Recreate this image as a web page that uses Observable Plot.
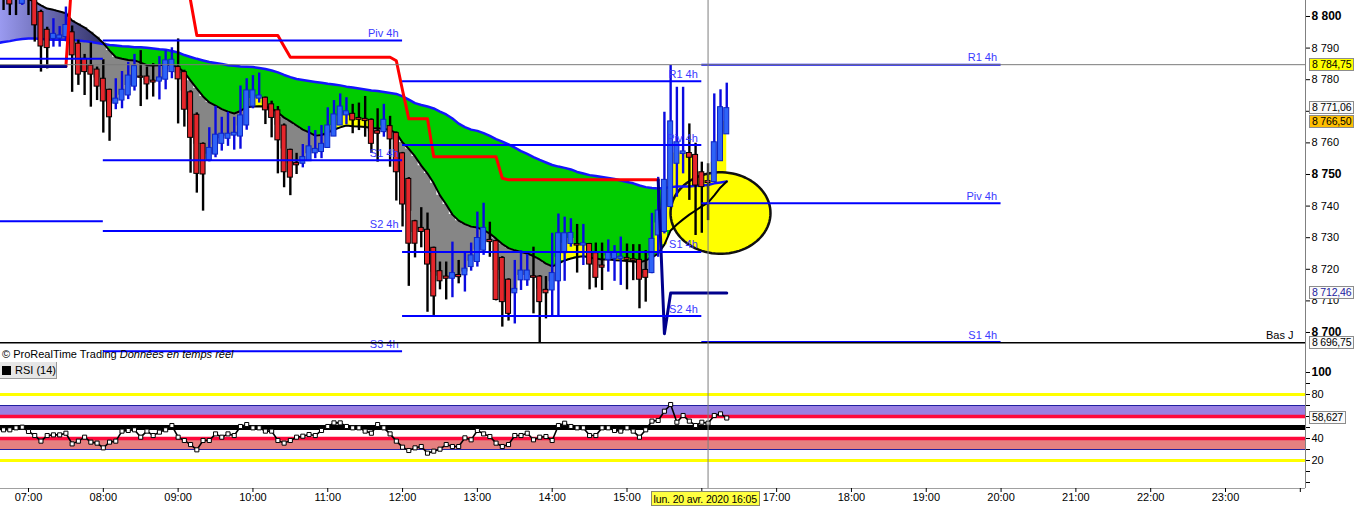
<!DOCTYPE html>
<html><head><meta charset="utf-8">
<script src="https://cdn.jsdelivr.net/npm/d3@7"></script>
<script src="https://cdn.jsdelivr.net/npm/@observablehq/plot@0.6"></script>
<style>
body{margin:0;background:#fff;}
#wrap{position:relative;width:1363px;height:507px;overflow:hidden;font-family:"Liberation Sans",Arial,sans-serif;background:#fff;}
#price,#rsi{position:absolute;left:0;}
#price{top:0;} #rsi{top:361px;}
.tag{position:absolute;height:11px;line-height:11px;font-size:10.5px;padding:0 2px;border:1px solid #8c8c8c;white-space:nowrap;color:#000;letter-spacing:-0.2px;}
</style></head><body><div id="wrap"><div id="price"></div><div id="rsi"></div></div>
<script>
// ---------- DATA (5-minute bars, first bar 06:35) ----------
const firstBar = 6 + 35/60;
const barHours = 5/60;
const open = [
 8812, 8812, 8808, 8811, 8804,
 8809, 8806, 8801.4, 8795.8, 8792.9, 8793, 8793.5, 8795, 8791.4, 8786.6, 8784.5, 8783.2,
 8780.3, 8776.8, 8772.4, 8773.4, 8775, 8777.8, 8781, 8781, 8779.7, 8779.4, 8780, 8782.4,
 8784, 8782.4, 8776, 8768.9, 8759.7, 8754.4, 8756.3, 8759.7, 8761.3, 8762.3, 8762, 8765.5,
 8771.5, 8774, 8774.3, 8772.2, 8770.3, 8765.5, 8757.8, 8753.6, 8753.4, 8754.2, 8756.7, 8757.1,
 8758.4, 8762, 8765.5, 8768.7, 8769.2, 8767.9, 8767.6, 8767.3, 8763.7, 8763.4, 8765.3, 8763.1,
 8756.7, 8748.6, 8735.2, 8733.1, 8732.5, 8726.8, 8719.4, 8717.7, 8717, 8718.2, 8718.1, 8720.7,
 8722.3, 8725.9, 8729.3, 8728.9, 8723.6, 8716.7, 8712.4, 8716.5, 8716.5, 8717.8, 8717.7, 8713.5,
 8713.3, 8716.2, 8725.1, 8728, 8728, 8727.5, 8728, 8725.1, 8721.2, 8723, 8723.3, 8723.3,
 8723.6, 8723.2, 8723, 8719.8, 8718.8, 8730.7, 8731.8, 8739.7, 8753.4, 8756.5, 8756.8, 8756.2,
 8750.7, 8747.9, 8747.6, 8754.2, 8762.7
];
const high = [
 8816, 8814, 8810, 8813, 8808,
 8811, 8807, 8802, 8796.6, 8799.3, 8796.8, 8803, 8797, 8792.5, 8788, 8791.6, 8784,
 8786.3, 8777, 8780.3, 8782.6, 8785.5, 8788, 8789.2, 8784, 8785.1, 8787.3, 8789.2, 8790.1,
 8792.9, 8783, 8776.5, 8769.5, 8760, 8764.8, 8771.5, 8768.1, 8769.7, 8768.1, 8778, 8780.3,
 8781.3, 8782.1, 8774.5, 8773.2, 8771.5, 8766, 8758, 8756.7, 8759.5, 8765.2, 8763.9, 8765.5,
 8771.1, 8773.4, 8775.5, 8774.3, 8772.2, 8772.6, 8774.7, 8767.6, 8770.8, 8772.2, 8768.4, 8763.5,
 8757, 8749, 8735.5, 8739.5, 8737.8, 8727, 8722.3, 8722.3, 8728.6, 8722.8, 8725.1, 8728.3,
 8738.1, 8740.9, 8734.9, 8729.2, 8724, 8717, 8722.8, 8725.9, 8724.7, 8727, 8718, 8717.7,
 8731.4, 8737.5, 8736.5, 8736, 8734.2, 8734.2, 8728.2, 8728.3, 8728.3, 8729.3, 8727.5, 8730.2,
 8728, 8727.8, 8727.8, 8725.9, 8737.7, 8749.1, 8769.7, 8784.5, 8777.6, 8777.6, 8766, 8759.9,
 8753.9, 8753.4, 8775.5, 8776.8, 8778.9
];
const low = [
 8806, 8801.9, 8800.3, 8800.3, 8803.5,
 8800.3, 8791.9, 8782.4, 8783.4, 8790.3, 8790.3, 8792, 8776, 8778.2, 8775, 8771.3, 8773.4,
 8763.1, 8760.5, 8770.5, 8770.8, 8773.7, 8776.4, 8771.5, 8773.6, 8774.5, 8773.6, 8776.8, 8780.3,
 8766, 8765, 8750.4, 8744.1, 8738.4, 8754, 8755.3, 8757.4, 8758.9, 8757.7, 8758, 8764,
 8770.8, 8772.6, 8765.8, 8761.6, 8750.2, 8745.8, 8743.3, 8750, 8752.1, 8754.2, 8755, 8755,
 8758.4, 8762, 8765.5, 8765.8, 8762.9, 8763.9, 8761.8, 8756.7, 8753.9, 8761.8, 8752.3, 8741.6,
 8733.4, 8714.6, 8723.6, 8726.8, 8706.4, 8705.4, 8713.5, 8710.3, 8711, 8715.4, 8712.8, 8719.4,
 8720.7, 8724.4, 8723.8, 8710, 8701.7, 8703.6, 8702.7, 8713.3, 8714.6, 8705.9, 8696.75, 8704.3,
 8704.8, 8704.8, 8716.2, 8727, 8718.8, 8721.2, 8713.5, 8714.1, 8713.3, 8719.1, 8716.2, 8714.9,
 8713.5, 8716.4, 8707.5, 8709.6, 8718.6, 8723.8, 8731.2, 8739.7, 8742.8, 8750.2, 8741.8, 8730.7,
 8731.4, 8735.4, 8747.6, 8754.2, 8762.7
];
const close = [
 8809, 8806, 8803.8, 8806, 8806,
 8806, 8797.2, 8790.5, 8790, 8794.5, 8794, 8797.3, 8787.7, 8781.6, 8782.4, 8781.6, 8777.8,
 8773.1, 8768.1, 8774, 8776.8, 8781.3, 8784.3, 8780.6, 8778.5, 8779.1, 8780.7, 8786.1, 8786.3,
 8780.1, 8770.5, 8761.6, 8750.2, 8750, 8758.4, 8762.6, 8762.9, 8762.9, 8763.2, 8768.7, 8776.6,
 8776.6, 8775, 8770.3, 8767.9, 8760.8, 8750.7, 8749, 8752.9, 8755.5, 8758.9, 8758.1, 8759.7,
 8765.5, 8769, 8771.5, 8770, 8767.1, 8767.3, 8766.9, 8759.7, 8762.9, 8767.3, 8761.1, 8750.7,
 8740.5, 8728.1, 8728.1, 8731.8, 8721.5, 8711.4, 8716.2, 8717, 8718.8, 8717.5, 8720.2, 8724.4,
 8729.9, 8733.1, 8728.6, 8710.3, 8709.6, 8705.9, 8713.8, 8719.6, 8719.6, 8717.3, 8709.6, 8712.4,
 8718.8, 8731.4, 8731.4, 8731.5, 8727.5, 8728.2, 8721.5, 8717.3, 8720.5, 8725.4, 8725.4, 8724,
 8723, 8722.7, 8716.7, 8717.3, 8729.6, 8738.6, 8748.3, 8766.8, 8760.2, 8757.3, 8755.3, 8746.5,
 8746, 8747.3, 8760.2, 8771.3, 8771
];
// upper (blue) average
const blueAvg = [
 8791.6, 8791.9, 8792.2, 8792.6, 8792.9,
 8793.0, 8793.0, 8792.9, 8792.7, 8792.6, 8792.6, 8792.6, 8792.6, 8792.4, 8792.2, 8791.9, 8791.6,
 8791.3, 8791.0, 8790.8, 8790.6, 8790.5, 8790.3, 8790.3, 8790.1, 8789.9, 8789.6, 8789.5, 8789.1,
 8788.6, 8787.8, 8787.2, 8786.6, 8786.1, 8785.6, 8785.3, 8785.0, 8784.6, 8784.4, 8784.2, 8784.1,
 8784.0, 8783.7, 8783.4, 8782.9, 8782.3, 8781.5, 8780.8, 8780.2, 8779.9, 8779.6, 8779.3, 8779.0,
 8778.7, 8778.5, 8778.2, 8777.8, 8777.5, 8777.2, 8776.9, 8776.6, 8776.4, 8776.1, 8775.8, 8775.5,
 8774.7, 8773.7, 8772.6, 8772.0, 8771.5, 8770.9, 8769.9, 8769.0, 8767.7, 8766.1, 8765.0, 8764.2,
 8763.8, 8763.1, 8762.2, 8761.2, 8760.4, 8759.5, 8758.5, 8757.4, 8756.5, 8755.5, 8754.6, 8753.8,
 8753.0, 8752.5, 8752.1, 8751.6, 8750.8, 8750.3, 8749.8, 8749.5, 8749.2, 8748.9, 8748.6, 8748.1,
 8747.6, 8747.2, 8746.5, 8746.0, 8745.7, 8745.6, 8745.7, 8746.0, 8746.2, 8746.2, 8746.2, 8746.4,
 8746.5, 8746.7, 8747.2, 8747.5, 8747.8
];
// slower (black) average
const blackAvg = [
 8813.2, 8811.4, 8809.5, 8807.6, 8806.3,
 8805.4, 8804.7, 8803.5, 8802.5, 8802.1, 8801.6, 8801.0, 8798.7, 8797.6, 8796.5, 8795.0, 8793.4,
 8791.6, 8789.2, 8787.1, 8786.6, 8786.2, 8786.1, 8785.4, 8784.6, 8784.5, 8784.6, 8784.8, 8784.5,
 8784.0, 8782.3, 8779.7, 8777.2, 8774.7, 8772.8, 8771.8, 8770.7, 8769.9, 8769.3, 8770.1, 8771.3,
 8771.5, 8771.6, 8771.5, 8770.9, 8769.6, 8768.0, 8766.8, 8765.5, 8764.2, 8763.3, 8762.3, 8762.5,
 8763.3, 8764.1, 8764.9, 8765.5, 8765.3, 8765.2, 8765.0, 8764.7, 8764.6, 8764.4, 8764.1, 8763.0,
 8760.1, 8758.1, 8755.7, 8752.8, 8750.3, 8747.2, 8743.4, 8740.5, 8737.3, 8735.4, 8734.3, 8733.5,
 8733.2, 8732.4, 8731.3, 8729.7, 8728.0, 8726.7, 8726.0, 8725.5, 8725.0, 8724.2, 8723.1, 8721.8,
 8720.9, 8721.8, 8722.8, 8723.4, 8723.9, 8724.1, 8723.7, 8723.4, 8723.1, 8723.1, 8722.9, 8722.8,
 8722.6, 8722.5, 8722.2, 8722.8, 8723.7, 8725.0, 8727.8, 8732.3, 8734.2, 8735.8, 8737.3, 8738.6,
 8739.9, 8741.1, 8743.4, 8745.9, 8747.8
];
// trailing stop: red (short) and navy (long) segments
const stopRed = [
 null, null, null, null, null,
 null, null, null, null, null, null, 8784.2, 8813.2, 8813.2, 8813.2, 8813.2, 8813.2,
 8813.2, 8813.2, 8813.2, 8813.2, 8813.2, 8813.2, 8813.2, 8813.2, 8813.2, 8813.2, 8813.2, 8813.2,
 8813.2, 8813.2, 8805.0, 8794, 8794, 8794, 8794, 8794, 8794, 8794, 8794, 8794,
 8794, 8794, 8794, 8794, 8794, 8790.5, 8787.1, 8787.1, 8787.1, 8787.1, 8787.1, 8787.1,
 8787.1, 8787.1, 8787.1, 8787.1, 8787.1, 8787.1, 8787.1, 8787.1, 8787.1, 8787.1, 8787.1, 8786.0,
 8776.6, 8767.6, 8767.6, 8767.6, 8767.6, 8755.6, 8755.6, 8755.6, 8755.6, 8755.6, 8755.6, 8755.6,
 8755.6, 8755.6, 8755.6, 8755.6, 8748.8, 8748.3, 8748.3, 8748.3, 8748.3, 8748.3, 8748.3, 8748.3,
 8748.3, 8748.3, 8748.3, 8748.3, 8748.3, 8748.3, 8748.3, 8748.3, 8748.3, 8748.3, 8748.3, 8748.3,
 8748.3, 8748.3, 8748.3, 8748.3, 8748.3, 8748.3, null, null, null, null, null, null,
 null, null, null, null, null
];
const stopNavy = [
 8784.2, 8784.2, 8784.2, 8784.2, 8784.2,
 8784.2, 8784.2, 8784.2, 8784.2, 8784.2, 8784.2, 8784.2, null, null, null, null, null,
 null, null, null, null, null, null, null, null, null, null, null, null,
 null, null, null, null, null, null, null, null, null, null, null, null,
 null, null, null, null, null, null, null, null, null, null, null, null,
 null, null, null, null, null, null, null, null, null, null, null, null,
 null, null, null, null, null, null, null, null, null, null, null, null,
 null, null, null, null, null, null, null, null, null, null, null, null,
 null, null, null, null, null, null, null, null, null, null, null, null,
 null, null, null, null, null, 8748.3, 8699.6, 8712.46, 8712.46, 8712.46, 8712.46, 8712.46,
 8712.46, 8712.46, 8712.46, 8712.46, 8712.46
];
const rsi = [
 48.5, 47.9, 47.9, 49.7, 50.3,
 46.4, 42.7, 37.6, 42.7, 43.3, 43.3, 44.8, 35.1, 37.6, 41.2, 36.7, 35.8,
 31.5, 36.7, 37.6, 46.7, 47.3, 47.9, 41.2, 46.7, 42.7, 45.8, 47.9, 51.8,
 41.2, 38.2, 34.5, 29.7, 38.2, 38.2, 44.2, 41.2, 44.2, 42.7, 50.9, 52.7,
 49.7, 49.7, 46.7, 46.7, 38.2, 35.8, 38.2, 41.2, 42.1, 43.6, 42.7, 47.3,
 50.9, 54.2, 54.2, 50.9, 49.7, 49.7, 46.7, 44.8, 52.7, 49.7, 44.2, 37.6,
 32.1, 29.1, 31.5, 32.7, 26.7, 28.5, 30.3, 34.5, 32.7, 32.7, 40.6, 38.8,
 47.3, 44.2, 41.8, 35.8, 32.7, 34.5, 42.7, 42.7, 44.8, 38.8, 41.2, 41.8,
 38.2, 51.8, 53.9, 50.9, 49.7, 49.7, 42.7, 42.7, 49.7, 49.7, 47.3, 46.7,
 49.7, 46.7, 41.2, 47.9, 55.8, 56.4, 64.8, 70.9, 54.8, 60.9, 55.8, 51.8,
 54.8, 53.9, 60.9, 62.4, 58.627
];
// 4h pivot levels (periods 04-08, 08-12, 12-16, 16-20)
const pivotStart = [4, 8, 12, 16];
const pivotEnd = [8, 12, 16, 20];
const pivotNames = ["R1 4h", "Piv 4h", "S1 4h", "S2 4h", "S3 4h"];
const pivR1 = [null, null, 8779.5, 8784.75];
const pivP  = [null, 8792.4, 8759.3, 8740.9];
const pivS1 = [8786.6, 8754.5, 8725.5, 8697.0];
const pivS2 = [8735.2, 8732.1, 8705.2, null];
const pivS3 = [null, 8694.1, null, null];
const pivotLabelled = [false, true, true, true];
const lowOfDay = 8696.75;        // "Bas J"
const lastHighLine = 8784.75;
const priceTags = [8784.75, 8771.06, 8766.50, 8712.46, 8696.75];
const rsiTag = 58.627;
const priceTicks = [8700, 8710, 8720, 8730, 8740, 8750, 8760, 8770, 8780, 8790, 8800];
const priceTickLabels = [8710, 8720, 8730, 8740, 8760, 8780, 8790];
const priceTicksBold = [8700, 8750, 8800];
const hourTicks = [7,8,9,10,11,12,13,14,15,16,17,18,19,20,21,22,23,24];
const hourLabels = [7,8,9,10,11,12,13,14,15,17,18,19,20,21,22,23];
const rsiTicks = [0, 10, 20, 30, 40, 50, 60, 70, 80, 90, 100];
const rsiLabelTicks = [80, 40, 20];
const crossTime = 16 + 5/60;
const crossLabel = "lun. 20 avr. 2020 16:05";

// ---------- BUILD ----------
const candles = open.map((o, i) => {
  const c = close[i];
  return {t: firstBar + i*barHours, o, h: high[i], l: low[i], c,
    bull: c >= o, lo: Math.min(o, c), hi: Math.max(o, c), mid: (o + c)/2,
    blue: blueAvg[i], black: blackAvg[i], red: stopRed[i] ?? NaN, navy: stopNavy[i] ?? NaN, rsi: rsi[i]};
});
const bulls = candles.filter(d => d.bull), bears = candles.filter(d => !d.bull);
const hw = barHours * 0.4;
const pivotLevels = [pivR1, pivP, pivS1, pivS2, pivS3];
const pivots = [];
pivotStart.forEach((s, k) => pivotLevels.forEach((arr, j) => {
  if (arr[k] != null) pivots.push({x1: s, x2: pivotEnd[k], y: arr[k], label: pivotNames[j], shown: pivotLabelled[k]});
}));
// highlighted zone (ellipse annotation)
const zone = {t: 16.25, p: 8737.8, rt: 0.668, rp: 12.9};
const ellipse = d3.range(0, 361, 4).map(a => ({x: zone.t + zone.rt*Math.cos(a*Math.PI/180), y: zone.p + zone.rp*Math.sin(a*Math.PI/180)}));

const xDom = [6.62573, 24.0693];
const fmtTick = v => String(v).replace(/\B(?=(\d{3})+(?!\d))/g, " ");
const fmtPrice = v => { const [i, f] = v.toFixed(2).split("."); return fmtTick(i) + "," + f; };
const font = "'Liberation Sans', Arial, sans-serif";
const style = {background: "white", fontFamily: font, fontSize: "11px", color: "#000", overflow: "visible"};

const priceChart = Plot.plot({
  width: 1363, height: 361, marginTop: 0, marginBottom: 0, marginLeft: 0, marginRight: 58,
  x: {domain: xDom, axis: null}, y: {domain: [8690.82, 8805.06], axis: null}, style,
  marks: [
    Plot.areaY(candles, {x: "t", y1: "black", y2: d => Math.min(d.black, d.mid), fill: "#868686", curve: "step", clip: true}),
    Plot.areaY(candles, {x: "t", y1: "blue", y2: d => Math.max(d.blue, d.black), fill: "url(#purpleGrad)", clip: true}),
    Plot.areaY(candles, {x: "t", y1: "black", y2: d => Math.max(d.blue, d.black), fill: "#00cc00", clip: true}),
    Plot.areaY(candles, {x: "t", y1: "black", y2: d => Math.max(d.black, d.mid), fill: "#ffff00", curve: "step", clip: true}),
    Plot.line(ellipse, {x: "x", y: "y", fill: "#ffff00", stroke: "#111", strokeWidth: 2.5, curve: "linear-closed"}),
    Plot.line(candles, {x: "t", y: "blue", stroke: "#1414ff", strokeWidth: 2.5, clip: true}),
    Plot.line(candles, {x: "t", y: "black", stroke: "#000", strokeWidth: 2, clip: true}),
    Plot.ruleX(bears, {x: "t", y1: "l", y2: "h", stroke: "#000", strokeWidth: 2.4, clip: true}),
    Plot.ruleX(bulls, {x: "t", y1: "l", y2: "h", stroke: "#0a0ae0", strokeWidth: 2.4, clip: true}),
    Plot.rect(bears, {x1: d => d.t - hw, x2: d => d.t + hw, y1: "lo", y2: "hi", fill: "#e5262b", stroke: "#000", strokeWidth: 1, clip: true}),
    Plot.rect(bulls, {x1: d => d.t - hw, x2: d => d.t + hw, y1: "lo", y2: "hi", fill: "#2e63f7", stroke: "#0c24c4", strokeWidth: 1, clip: true}),
    Plot.line(candles, {x: "t", y: "red", stroke: "#ff0000", strokeWidth: 3, clip: true}),
    Plot.line(candles, {x: "t", y: "navy", stroke: "#00008c", strokeWidth: 3, clip: true}),
    Plot.ruleY(pivots, {y: "y", x1: "x1", x2: "x2", stroke: "#0000ff", strokeWidth: 2, clip: true}),
    Plot.text(pivots.filter(d => d.shown), {x: "x2", y: "y", text: "label", textAnchor: "end", dx: -4, dy: -7, fill: "#3a3aff", fontSize: 11}),
    Plot.ruleY([lastHighLine], {stroke: "#7a7a7a", strokeWidth: 1}),
    Plot.ruleY([lowOfDay], {stroke: "#000", strokeWidth: 1.3}),
    Plot.text([lowOfDay], {y: d => d, frameAnchor: "right", text: () => "Bas J", textAnchor: "end", dx: -12, dy: -7, fill: "#000", fontSize: 11}),
    Plot.ruleX([crossTime], {stroke: "#7f7f7f", strokeWidth: 1}),
    Plot.ruleY([8690.82], {stroke: "#a0a0a0", strokeWidth: 1}),
    Plot.ruleX([xDom[1]], {stroke: "#808080", strokeWidth: 1}),
    Plot.axisY(priceTicks, {anchor: "right", tickFormat: v => priceTickLabels.includes(v) ? fmtTick(v) : "", tickSize: 4, tickPadding: 2, fontSize: 11, label: null}),
    Plot.axisY(priceTicksBold, {anchor: "right", tickFormat: fmtTick, tickSize: 4, tickPadding: 2, fontSize: 12, fontWeight: "bold", label: null})
  ]
});
d3.select(priceChart).insert("defs", ":first-child").html(
  '<linearGradient id="purpleGrad" gradientUnits="userSpaceOnUse" x1="0" y1="0" x2="100" y2="0">' +
  '<stop offset="0" stop-color="#9a9af0"/><stop offset="1" stop-color="#35356c"/></linearGradient>');
document.getElementById("price").appendChild(priceChart);

const rsiChart = Plot.plot({
  width: 1363, height: 146, marginTop: 0, marginBottom: 19, marginLeft: 0, marginRight: 58,
  x: {domain: xDom, axis: null}, y: {domain: [-5.45, 110], axis: null}, style,
  marks: [
    Plot.rect([{a: 60, b: 70}], {y1: "a", y2: "b", fill: "#9a80e2"}),
    Plot.rect([{a: 30, b: 40}], {y1: "a", y2: "b", fill: "#e58080"}),
    Plot.ruleY([70, 30], {stroke: "#2020a0", strokeWidth: 1}),
    Plot.ruleY([80, 20], {stroke: "#ffff00", strokeWidth: 3}),
    Plot.ruleY([60, 40], {stroke: "#ff0a3c", strokeWidth: 3.5}),
    Plot.ruleY([50], {stroke: "#000", strokeWidth: 5}),
    Plot.line(candles, {x: "t", y: "rsi", stroke: "#000", strokeWidth: 1.6}),
    Plot.dot(candles, {x: "t", y: "rsi", symbol: "square", r: 2.3, fill: "#fff", stroke: "#000", strokeWidth: 1}),
    Plot.ruleX([crossTime], {stroke: "#7f7f7f", strokeWidth: 1}),
    Plot.ruleY([-5.45], {stroke: "#a0a0a0", strokeWidth: 1}),
    Plot.ruleX([xDom[1]], {stroke: "#808080", strokeWidth: 1}),
    Plot.axisY(rsiTicks, {anchor: "right", tickFormat: v => rsiLabelTicks.includes(v) ? String(v) : "", tickSize: 4, tickPadding: 2, fontSize: 11, label: null}),
    Plot.axisY([100], {anchor: "right", tickFormat: String, tickSize: 4, tickPadding: 2, fontSize: 12, fontWeight: "bold", label: null}),
    Plot.axisX(hourTicks, {anchor: "bottom", tickFormat: h => hourLabels.includes(h) ? String(h).padStart(2, "0") + ":00" : "", tickSize: 4, tickPadding: 1, fontSize: 11, label: null})
  ]
});
document.getElementById("rsi").appendChild(rsiChart);

// ---------- overlays (positioned by the chart scales) ----------
const wrap = document.getElementById("wrap");
const xs = priceChart.scale("x"), ys = priceChart.scale("y"), rs = rsiChart.scale("y");
const axisX0 = xs.range[1];
function addDiv(html, css) { const d = document.createElement("div"); d.innerHTML = html; Object.assign(d.style, css); wrap.appendChild(d); return d; }
const tagStyles = [
  {background: "#ffff00"}, {background: "#fafafa"}, {background: "#ffbf00"},
  {background: "#fafafa", color: "#1a1aa0"}, {background: "#fafafa"}
];
priceTags.forEach((v, i) => {
  const d = addDiv(fmtPrice(v), Object.assign({left: (axisX0 + 4) + "px", top: (ys.apply(v) - 6.5) + "px"}, tagStyles[i]));
  d.className = "tag";
});
const rt = addDiv(rsiTag.toFixed(3).replace(".", ","), {left: (axisX0 + 4) + "px", top: (361 + rs.apply(rsiTag) - 6.5) + "px", background: "#fafafa"});
rt.className = "tag";
addDiv(crossLabel, {position: "absolute", left: (xs.apply(crossTime) - 57) + "px", top: "491px", height: "15px", lineHeight: "14px",
  padding: "0 2px", fontSize: "10.5px", letterSpacing: "-0.15px", background: "#ffff40", border: "1px solid #8a8a6a", whiteSpace: "nowrap", boxSizing: "border-box"});
addDiv('© ProRealTime Trading <i>Données en temps réel</i>', {position: "absolute", left: "2px", top: "347px", fontSize: "11px", lineHeight: "14px", whiteSpace: "nowrap", color: "#000"});
addDiv('<span style="display:inline-block;width:9px;height:9px;background:#000;margin:0 4px 0 2px;vertical-align:-1px"></span>RSI (14)',
  {position: "absolute", left: "0px", top: "362px", width: "56px", height: "16px", lineHeight: "16px", fontSize: "11px", background: "#e6e6e6",
   borderRight: "1px solid #9a9a9a", borderBottom: "1px solid #9a9a9a", whiteSpace: "nowrap", color: "#000"});
</script>
</body></html>
